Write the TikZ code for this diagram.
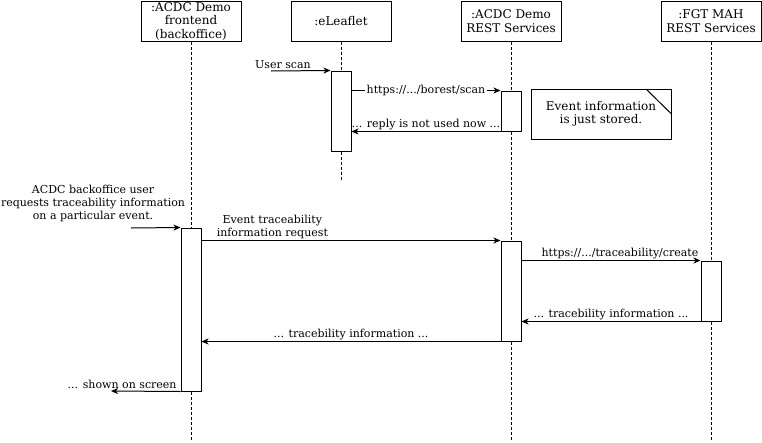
\documentclass[tikz,border=0pt]{standalone}
\usepackage{fontspec}
\setmainfont{DejaVu Serif}
\usetikzlibrary{arrows.meta}
\begin{document}
\begin{tikzpicture}[x=1pt,y=-1pt, line width=1pt,
  font=\fontsize{11}{13}\selectfont,
  head/.style={draw,fill=white,minimum width=100pt,minimum height=40pt,align=center,inner sep=0pt,font=\fontsize{12}{13.5}\selectfont},
  act/.style={draw,fill=white,minimum width=20pt,inner sep=0pt},
  life/.style={dash pattern=on 3pt off 2pt},
  msg/.style={-{Stealth[length=7pt,width=6pt,inset=2pt]}},
  lbl/.style={inner sep=1.5pt,align=center},
  notebox/.style={draw,fill=white,minimum width=140pt,minimum height=50pt,align=center,inner sep=0pt,font=\fontsize{12}{13.5}\selectfont}]
\useasboundingbox (0,0) rectangle (762,442);
% headers
\node[head] (hA) at (191,21) {:ACDC Demo\\frontend\\(backoffice)};
\node[head] (hB) at (341,21) {:eLeaflet};
\node[head] (hC) at (511,21) {:ACDC Demo\\REST Services};
\node[head] (hD) at (711,21) {:FGT MAH\\REST Services};
% lifeline ends
\coordinate (eA) at (191,441);
\coordinate (eB) at (341,181);
\coordinate (eC) at (511,441);
\coordinate (eD) at (711,441);
\draw[life] (hA.south) -- (eA);
\draw[life] (hB.south) -- (eB);
\draw[life] (hC.south) -- (eC);
\draw[life] (hD.south) -- (eD);
% activations
\node[act,minimum height=80pt] (aB) at (341,111) {};
\node[act,minimum height=40pt] (aC1) at (511,111) {};
\node[act,minimum height=163pt] (aA) at (191,309.5) {};
\node[act,minimum height=100pt] (aC2) at (511,291) {};
\node[act,minimum height=60pt] (aD) at (711,291) {};
% note
\node[notebox] (note) at (601,114) {Event information\\is just stored.};
\coordinate (nc) at (646,89);
\draw (nc) -- (note.north east |- 0,114);
% messages
\coordinate (s1) at (271,71);
\draw[msg] (s1) -- (aB.north west) node[lbl,above,pos=0.2] {User scan};
\draw[msg] (aB.east |- aC1.north west) -- (aC1.north west) node[lbl,fill=white,midway] {https://.../borest/scan};
\draw[msg] (aC1.south west) -- (aB.east |- aC1.south west) node[lbl,above,midway] {... reply is not used now ...};
\coordinate (s2) at (131,228);
\draw[msg] (s2) -- (aA.north west);
\node[lbl] (l2) at (93,203) {ACDC backoffice user\\requests traceability information\\on a particular event.};
\draw[msg] (aA.east |- aC2.north west) -- (aC2.north west) node[lbl,above,pos=0.237] {Event traceability\\information request};
\draw[msg] (aC2.east |- aD.north west) -- (aD.north west) node[lbl,above,pos=0.55] {https://.../traceability/create};
\draw[msg] (aD.south west) -- (aC2.east |- aD.south west) node[lbl,above,midway] {... tracebility information ...};
\draw[msg] (aC2.south west) -- (aA.east |- aC2.south west) node[lbl,above,midway] {... tracebility information ...};
\coordinate (e2) at (111,391);
\draw[msg] (aA.south west) -- (e2) node[lbl,above,pos=0.84] {... shown on screen};
\end{tikzpicture}
\end{document}
